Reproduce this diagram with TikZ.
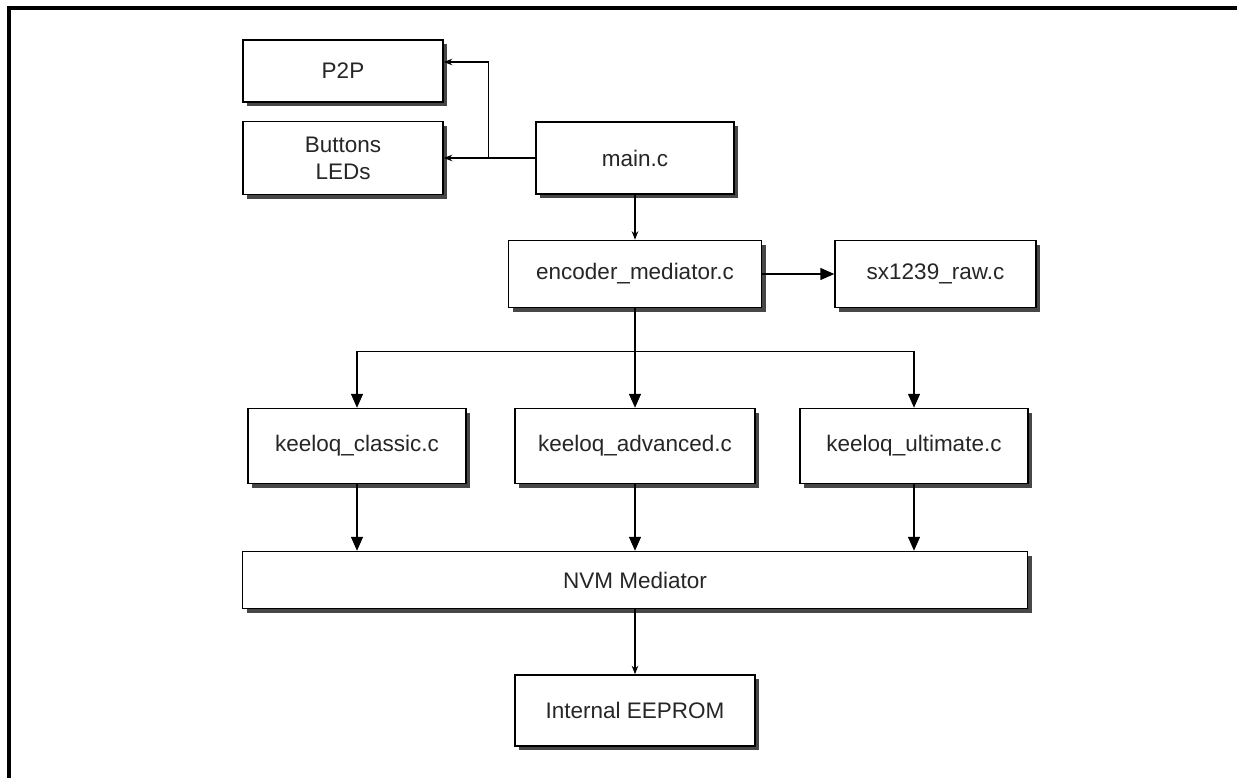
\documentclass[tikz,border=0pt]{standalone}
\usepackage{fontspec}
\setmainfont{Liberation Sans}
\usetikzlibrary{shapes.geometric, arrows.meta, shadows}
\tikzstyle{block} = [rectangle, minimum width=4cm, minimum height=1.34cm, text centered, align=center, draw=black, line width=0.85pt, fill=white, text=black!85, font=\fontsize{12.8pt}{15.4pt}\selectfont, drop shadow={shadow xshift=0.08cm, shadow yshift=-0.08cm, fill=black!80, opacity=0.9}]
\tikzstyle{arrow} = [line width=0.85pt, -{Triangle[length=0.28cm, width=0.24cm]}]
\tikzstyle{thinarrow} = [line width=0.85pt, -{Stealth[length=0.17cm, width=0.13cm]}]

\begin{document}
\begin{tikzpicture}[node distance=2.8cm] % centres placed from main.c outwards

    \useasboundingbox (0,0) rectangle (24.74,-15.56);
    \draw [line width=2.2pt] (0.18,-15.8) -- (0.18,-0.16) -- (25,-0.16);

    \node (main) [block, minimum width=3.96cm, minimum height=1.44cm] at (12.7,-3.16) {main.c};
    \node (buttons) [block, left of=main, xshift=-3.04cm, minimum height=1.46cm] {Buttons\\LEDs};
    \node (p2p) [block, above of=buttons, yshift=-1.06cm, minimum height=1.24cm] {P2P};

    \node (encoder) [block, below of=main, yshift=0.48cm, minimum width=5.06cm] {encoder\_mediator.c};
    \node (sx) [block, right of=encoder, xshift=3.21cm, minimum width=4.02cm] {sx1239\_raw.c};

    \node (advanced) [block, below of=encoder, yshift=-0.64cm, minimum width=4.8cm, minimum height=1.5cm] {keeloq\_advanced.c};
    \node (classic) [block, left of=advanced, xshift=-2.76cm, minimum width=4.36cm, minimum height=1.5cm] {keeloq\_classic.c};
    \node (ultimate) [block, right of=advanced, xshift=2.78cm, minimum width=4.56cm, minimum height=1.5cm] {keeloq\_ultimate.c};

    \node (nvm) [block, below of=advanced, yshift=0.12cm, minimum width=15.7cm, minimum height=1.14cm] {NVM Mediator};
    \node (eeprom) [block, below of=nvm, yshift=0.19cm, minimum width=4.8cm, minimum height=1.42cm] {Internal EEPROM};

    % Flechas
    \draw [thinarrow] (main.west) -- (buttons.east);
    \draw [thinarrow] (main.west) -- ++(-0.94,0) |- ([yshift=0.18cm]p2p.east);
    \draw [thinarrow] (main.south) -- (encoder.north);
    \draw [arrow] (encoder.east) -- (sx.west);

    \draw [arrow] (encoder.south) -- (advanced.north);
    \draw [arrow] (encoder.south) -- ++(0,-0.86) -| (classic.north);
    \draw [arrow] (encoder.south) -- ++(0,-0.86) -| (ultimate.north);

    \draw [arrow] (classic.south) -- (classic.south |- nvm.north);
    \draw [arrow] (advanced.south) -- (nvm.north);
    \draw [arrow] (ultimate.south) -- (ultimate.south |- nvm.north);
    \draw [thinarrow] (nvm.south) -- (eeprom.north);
\end{tikzpicture}
\end{document}
